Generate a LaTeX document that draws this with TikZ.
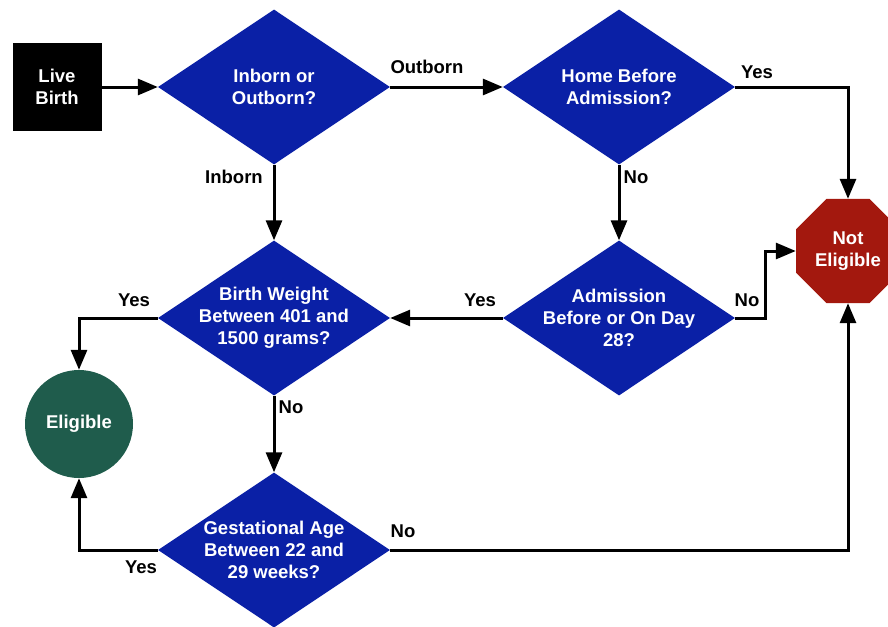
\documentclass[tikz,border=0pt]{standalone}
\usepackage{fontspec}
\setmainfont{Liberation Sans}
\usetikzlibrary{shapes.geometric,arrows.meta}
\definecolor{dblue}{RGB}{10,32,166}
\definecolor{nred}{RGB}{163,24,14}
\definecolor{egreen}{RGB}{31,92,76}
\begin{document}
\begin{tikzpicture}[x=1pt,y=-1pt,
    every node/.style={font=\fontsize{18.5}{22}\selectfont\bfseries},
    decision/.style={diamond,fill=dblue,text=white,align=center,
        minimum width=232pt,minimum height=155pt,inner sep=-20pt},
    arr/.style={line width=3pt,-{Triangle[length=20pt,width=16pt]}},
    lbl/.style={text=black,inner sep=0pt}]
    \useasboundingbox (0,0) rectangle (888,626);
    %start
    \node[fill=black,text=white,align=center,minimum width=89pt,minimum height=88pt] (birth) at (57,87) {Live\\Birth};
    %decisions
    \node[decision] (inout) at (274,87) {Inborn or\\Outborn?};
    \node[decision] (home) at (619,87) {Home Before\\Admission?};
    \node[decision] (weight) at (274,318) {Birth Weight\\Between 401 and\\1500 grams?};
    \node[decision] (day) at (619,318) {Admission\\Before or On Day\\28?};
    \node[decision] (gest) at (274,550) {Gestational Age\\Between 22 and\\29 weeks?};
    %results
    \node[circle,fill=egreen,text=white,minimum size=108pt,inner sep=0pt] (elig) at (79,424) {Eligible};
    \node[regular polygon,regular polygon sides=8,fill=nred,text=white,align=center,
        minimum size=112.6pt,inner sep=0pt] (notel) at (848,251) {Not\\Eligible};

    \draw[arr] (birth.east) -- (inout.west);
    \draw[arr] (inout.east) -- (home.west);
    \draw[arr] (home.east) -| (notel.north);
    \draw[arr] (inout.south) -- (weight.north);
    \draw[arr] (home.south) -- (day.north);
    \draw[arr] (day.west) -- (weight.east);
    \draw[arr] (day.east) -- ++(30,0) |- (notel.west);
    \draw[arr] (weight.west) -| (elig.north);
    \draw[arr] (weight.south) -- (gest.north);
    \draw[arr] (gest.west) -| (elig.south);
    \draw[arr] (gest.east) -| (notel.south);
    %labels
    \node[lbl] (outlbl) at (427,67) {Outborn};
    \node[lbl] (yesa) at (757,72) {Yes};
    \node[lbl] (noa) at (636,177) {No};
    \node[lbl] (inlbl) at (234,177) {Inborn};
    \node[lbl] (yesb) at (480,300) {Yes};
    \node[lbl] (nob) at (747,300) {No};
    \node[lbl] (yesc) at (134,300) {Yes};
    \node[lbl] (noc) at (291,407) {No};
    \node[lbl] (yesd) at (141,567) {Yes};
    \node[lbl] (nod) at (403,531) {No};
\end{tikzpicture}
\end{document}
